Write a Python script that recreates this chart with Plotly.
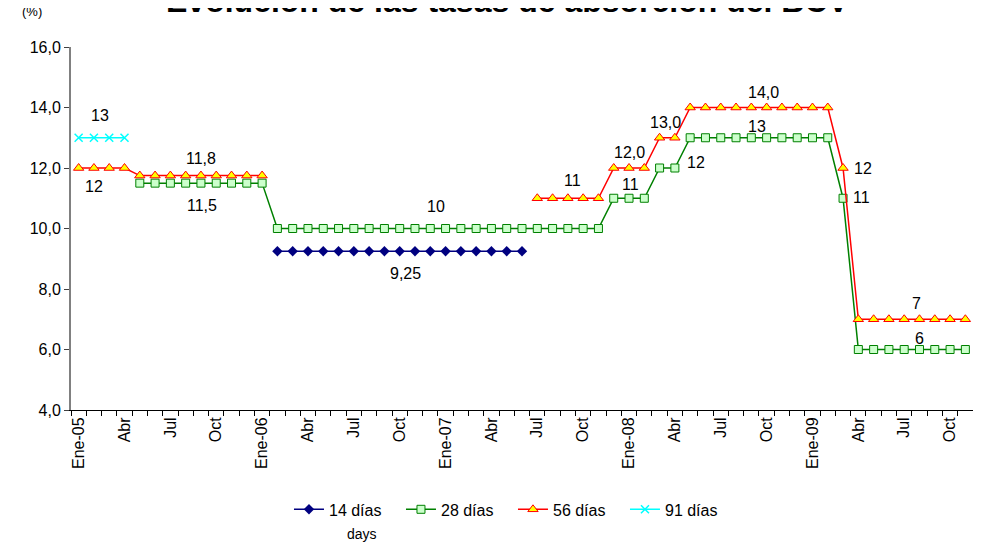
import plotly.graph_objects as go

# Categories (monthly, Ene-05 .. Nov-09)
months = [
    "Ene-05", "Feb-05", "Mar-05", "Abr-05", "May-05", "Jun-05", "Jul-05", "Ago-05", "Sep-05", "Oct-05", "Nov-05", "Dic-05",
    "Ene-06", "Feb-06", "Mar-06", "Abr-06", "May-06", "Jun-06", "Jul-06", "Ago-06", "Sep-06", "Oct-06", "Nov-06", "Dic-06",
    "Ene-07", "Feb-07", "Mar-07", "Abr-07", "May-07", "Jun-07", "Jul-07", "Ago-07", "Sep-07", "Oct-07", "Nov-07", "Dic-07",
    "Ene-08", "Feb-08", "Mar-08", "Abr-08", "May-08", "Jun-08", "Jul-08", "Ago-08", "Sep-08", "Oct-08", "Nov-08", "Dic-08",
    "Ene-09", "Feb-09", "Mar-09", "Abr-09", "May-09", "Jun-09", "Jul-09", "Ago-09", "Sep-09", "Oct-09", "Nov-09",
]

# Tick labels and the months they sit on
tick_months = [
    "Ene-05", "Abr-05", "Jul-05", "Oct-05", "Ene-06", "Abr-06", "Jul-06", "Oct-06",
    "Ene-07", "Abr-07", "Jul-07", "Oct-07", "Ene-08", "Abr-08", "Jul-08", "Oct-08",
    "Ene-09", "Abr-09", "Jul-09", "Oct-09",
]
tick_labels = [
    "Ene-05", "Abr", "Jul", "Oct", "Ene-06", "Abr", "Jul", "Oct",
    "Ene-07", "Abr", "Jul", "Oct", "Ene-08", "Abr", "Jul", "Oct",
    "Ene-09", "Abr", "Jul", "Oct",
]

N = None
s14 = [
    N, N, N, N, N, N, N, N, N, N, N, N,
    N, 9.25, 9.25, 9.25, 9.25, 9.25, 9.25, 9.25, 9.25, 9.25, 9.25, 9.25,
    9.25, 9.25, 9.25, 9.25, 9.25, 9.25, N, N, N, N, N, N,
    N, N, N, N, N, N, N, N, N, N, N, N,
    N, N, N, N, N, N, N, N, N, N, N,
]
s28 = [
    N, N, N, N, 11.5, 11.5, 11.5, 11.5, 11.5, 11.5, 11.5, 11.5,
    11.5, 10, 10, 10, 10, 10, 10, 10, 10, 10, 10, 10,
    10, 10, 10, 10, 10, 10, 10, 10, 10, 10, 10, 11,
    11, 11, 12, 12, 13, 13, 13, 13, 13, 13, 13, 13,
    13, 13, 11, 6, 6, 6, 6, 6, 6, 6, 6,
]
s56 = [
    12, 12, 12, 12, 11.75, 11.75, 11.75, 11.75, 11.75, 11.75, 11.75, 11.75,
    11.75, N, N, N, N, N, N, N, N, N, N, N,
    N, N, N, N, N, N, 11, 11, 11, 11, 11, 12,
    12, 12, 13, 13, 14, 14, 14, 14, 14, 14, 14, 14,
    14, 14, 12, 7, 7, 7, 7, 7, 7, 7, 7,
]
s91 = [
    13, 13, 13, 13, N, N, N, N, N, N, N, N,
    N, N, N, N, N, N, N, N, N, N, N, N,
    N, N, N, N, N, N, N, N, N, N, N, N,
    N, N, N, N, N, N, N, N, N, N, N, N,
    N, N, N, N, N, N, N, N, N, N, N,
]

# Data labels: text, x position (month index), value, vertical offset in px
labels = [
    ("13", 1.4, 13, 22),
    ("12", 1.0, 12, -18),
    ("11,8", 8.0, 11.75, 17),
    ("11,5", 8.1, 11.5, -22),
    ("10", 23.4, 10, 22),
    ("9,25", 21.4, 9.25, -22),
    ("11", 32.3, 11, 18),
    ("12,0", 36.0, 12, 16),
    ("11", 36.1, 11, 14),
    ("13,0", 38.4, 13, 15),
    ("12", 40.4, 12, 6),
    ("14,0", 44.8, 14, 15),
    ("13", 44.4, 13, 11),
    ("12", 51.3, 12, 0),
    ("11", 51.2, 11, 1),
    ("7", 54.8, 7, 16),
    ("6", 55.0, 6, 11),
]

FONT = "Arial, 'Liberation Sans', sans-serif"
x = list(range(len(months)))

fig = go.Figure()
fig.add_trace(go.Scatter(
    x=x, y=s14, name="14 días", mode="lines+markers",
    line=dict(color="#000080", width=1.5),
    marker=dict(symbol="diamond", size=8, color="#000080"),
))
fig.add_trace(go.Scatter(
    x=x, y=s28, name="28 días", mode="lines+markers",
    line=dict(color="#008000", width=1.5),
    marker=dict(symbol="square", size=8, color="#CCFFCC", line=dict(color="#008000", width=1)),
))
fig.add_trace(go.Scatter(
    x=x, y=s56, name="56 días", mode="lines+markers",
    line=dict(color="#FF0000", width=1.5),
    marker=dict(symbol="triangle-up", size=9, color="#FFFF00", line=dict(color="#FF0000", width=1)),
))
fig.add_trace(go.Scatter(
    x=x, y=s91, name="91 días", mode="lines+markers",
    line=dict(color="#00FFFF", width=1.5),
    marker=dict(symbol="x-thin", size=8, color="#00FFFF", line=dict(color="#00FFFF", width=1.5)),
))

annotations = []
for text, xi, v, dy in labels:
    annotations.append(dict(
        x=xi, y=v, xref="x", yref="y", text=text, showarrow=False,
        yshift=dy, font=dict(family=FONT, size=16, color="black"),
    ))

annotations.append(dict(
    x=0.484, y=1.073, xref="paper", yref="paper", xanchor="center", yanchor="bottom",
    text="<b>Evolución de las tasas de absorción del BCV</b>", showarrow=False,
    font=dict(family=FONT, size=32, color="black"),
))
annotations.append(dict(
    x=-0.0432, y=1.0715, xref="paper", yref="paper", xanchor="center", yanchor="bottom",
    text="(%)", showarrow=False, font=dict(family=FONT, size=13, color="black"),
))
annotations.append(dict(
    x=0.323, y=-0.315, xref="paper", yref="paper", xanchor="center", yanchor="top",
    text="days", showarrow=False, font=dict(family=FONT, size=14, color="black"),
))

tickvals = [months.index(m) for m in tick_months]

fig.update_layout(
    width=981, height=543,
    margin=dict(l=63, r=16, t=38.5, b=141),
    plot_bgcolor="white", paper_bgcolor="white",
    separators=",.",
    font=dict(family=FONT, size=16, color="black"),
    showlegend=True,
    legend=dict(
        orientation="h", x=0.490, xanchor="center", y=-0.227, yanchor="top",
        font=dict(family=FONT, size=16, color="black"),
        itemwidth=30, entrywidth=67, bgcolor="rgba(0,0,0,0)", traceorder="normal",
    ),
    xaxis=dict(
        range=[-0.5, len(months) - 0.5], tickmode="array", tickvals=tickvals, ticktext=tick_labels,
        tickangle=-90, ticks="", showline=True, linecolor="black", linewidth=1,
        showgrid=False, zeroline=False, tickfont=dict(family=FONT, size=16, color="black"),
        minor=dict(tickmode="array", tickvals=[k - 0.5 for k in range(len(months) + 1)],
                   ticks="outside", ticklen=5, tickcolor="black", tickwidth=1, showgrid=False),
    ),
    yaxis=dict(
        range=[4, 16], tickmode="linear", tick0=4, dtick=2, tickformat=".1f",
        ticks="outside", ticklen=5, tickcolor="#404040", showline=True, linecolor="#808080",
        linewidth=2, showgrid=False, zeroline=False,
        tickfont=dict(family=FONT, size=16, color="black"),
    ),
    annotations=annotations,
)

fig.write_html("out.html")
